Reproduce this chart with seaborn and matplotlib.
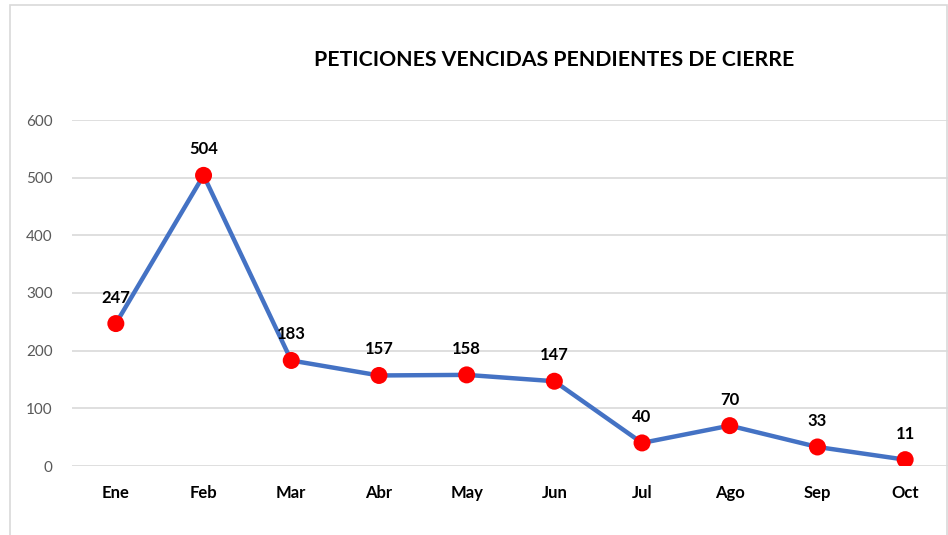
import matplotlib
matplotlib.use("Agg")
import matplotlib.pyplot as plt
import seaborn as sns
import pandas as pd

# data
meses = ["Ene", "Feb", "Mar", "Abr", "May", "Jun", "Jul", "Ago", "Sep", "Oct"]
peticiones = [247, 504, 183, 157, 158, 147, 40, 70, 33, 11]
y_ticks = [0, 100, 200, 300, 400, 500, 600]

df = pd.DataFrame({"mes": meses, "peticiones": peticiones})

sns.set_style("white")
plt.rcParams["font.family"] = ["Lato", "DejaVu Sans"]

fig = plt.figure(figsize=(9.48, 5.35), dpi=100)

# light border around chart area
fig.patches.append(plt.Rectangle((10 / 948, -0.1), 937 / 948, 1.1 - 5 / 535,
                                 transform=fig.transFigure, fill=False,
                                 edgecolor="#d9d9d9", linewidth=1.2))

ax = fig.add_axes([72 / 948, 69 / 535, 877 / 948, 346 / 535])
ax.set_facecolor("none")

sns.lineplot(data=df, x="mes", y="peticiones", ax=ax, color="#4472C4",
             linewidth=3.2, sort=False)
sns.scatterplot(data=df, x="mes", y="peticiones", ax=ax, color="#FF0000",
                s=150, edgecolor="none", zorder=5)

for i, v in enumerate(peticiones):
    ax.annotate(str(v), (i, v), xytext=(0, 13), textcoords="offset points",
                ha="center", va="bottom", fontsize=12, fontweight="bold",
                color="black")

ax.set_xlim(-0.5, len(meses) - 0.5)
ax.set_ylim(0, 600)
ax.set_yticks(y_ticks)
ax.grid(axis="y", color="#d9d9d9", linewidth=1.2)
ax.set_axisbelow(True)
for s in ax.spines.values():
    s.set_visible(False)
ax.tick_params(axis="both", length=0)
ax.tick_params(axis="y", labelsize=11, labelcolor="#595959", pad=14)
ax.tick_params(axis="x", labelsize=12, labelcolor="black", pad=14)
for lbl in ax.get_xticklabels():
    lbl.set_fontweight("bold")
ax.set_xlabel("")
ax.set_ylabel("")

fig.text(554 / 948, 1 - 60 / 535, "PETICIONES VENCIDAS PENDIENTES DE CIERRE",
         ha="center", va="center", fontsize=15.3, fontweight="bold",
         color="black")

fig.savefig("out.png", dpi=100, facecolor="white")
